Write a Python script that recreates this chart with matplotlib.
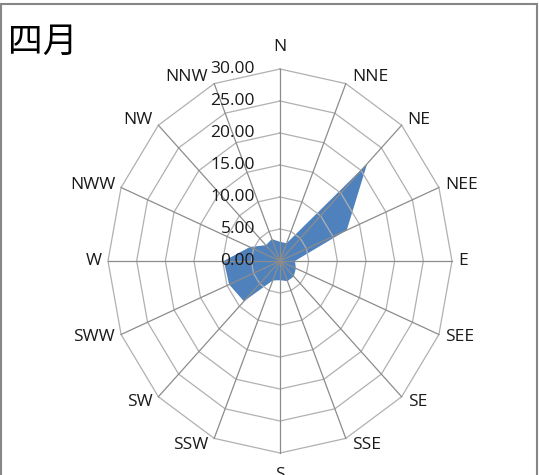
import numpy as np
import matplotlib
matplotlib.use("Agg")
import matplotlib.pyplot as plt
from matplotlib.patches import Rectangle

# ---- data ----
directions = ["N", "NNE", "NE", "NEE", "E", "SEE", "SE", "SSE",
              "S", "SSW", "SW", "SWW", "W", "NWW", "NW", "NNW"]
values = [3.0, 3.0, 21.5, 12.6, 2.6, 3.0, 3.4, 3.4,
          3.0, 3.3, 8.9, 9.6, 9.8, 5.7, 3.5, 3.7]
ring_values = [0, 5, 10, 15, 20, 25, 30]
ring_labels = ["0.00", "5.00", "10.00", "15.00", "20.00", "25.00", "30.00"]
title = "四月"

W, H = 539, 475
fig = plt.figure(figsize=(W / 100, H / 100), dpi=100)
fig.patch.set_facecolor("white")

# axes box in pixels: center (280,261), x-radius 172, y-radius 192
cx, cy, rx, ry = 280, 261, 172, 192
ax = fig.add_axes([(cx - rx) / W, (H - cy - ry) / H, 2 * rx / W, 2 * ry / H])
rmax = ring_values[-1]
ax.set_xlim(-rmax, rmax)
ax.set_ylim(-rmax, rmax)
ax.axis("off")

n = len(directions)
theta = np.arange(n) * 2 * np.pi / n
s, c = np.sin(theta), np.cos(theta)

# filled data polygon
v = np.array(values)
ax.fill(v * s, v * c, color="#4F81BD", zorder=2, lw=0)

# polygon rings
for r in ring_values[1:]:
    ax.plot(np.append(r * s, r * s[0]), np.append(r * c, r * c[0]),
            color="#B0B0B0", lw=0.9, zorder=3, clip_on=False)
# spokes
for i in range(n):
    ax.plot([0, rmax * s[i]], [0, rmax * c[i]], color="#8C8C8C", lw=0.9,
            zorder=3, clip_on=False)

font = "Open Sans"
# ring value labels along N axis
for r, lab in zip(ring_values, ring_labels):
    ax.annotate(lab, xy=(0, r), xytext=(-25, 0), textcoords="offset pixels",
                ha="right", va="center", fontsize=12.5, family=font,
                color="#1a1a1a", zorder=5, annotation_clip=False)

# direction labels
for i, d in enumerate(directions):
    x, y = rmax * s[i], rmax * c[i]
    if abs(s[i]) < 0.1:
        ha = "center"
        dx, dy = 0, 22 * np.sign(c[i])
    else:
        ha = "left" if s[i] > 0 else "right"
        dx, dy = 6 * np.sign(s[i]), 7 * c[i]
    ax.annotate(d, xy=(x, y), xytext=(dx, dy), textcoords="offset pixels",
                ha=ha, va="center", fontsize=12.5, family=font,
                color="#1a1a1a", zorder=5, annotation_clip=False)

# title
fig.text(8 / W, 1 - 42 / H, title, ha="left", va="center", fontsize=25,
         family=["Noto Sans CJK SC", "DejaVu Sans"], color="black")

# outer border
fig.patches.append(Rectangle((1 / W, -0.02), 536 / W, (H - 4) / H + 0.02,
                             transform=fig.transFigure, fill=False,
                             edgecolor="#868686", lw=1.5))

fig.savefig("out.png", dpi=100)
